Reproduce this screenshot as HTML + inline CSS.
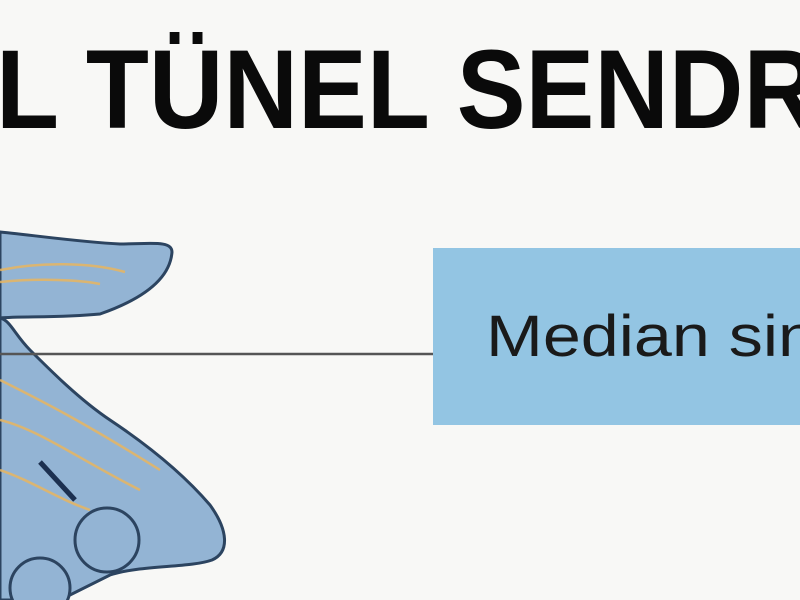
<!DOCTYPE html>
<html><head><style>
html,body{margin:0;padding:0;width:800px;height:600px;overflow:hidden;background:#f8f8f6}
</style></head><body>
<svg width="800" height="600" viewBox="0 0 800 600" xmlns="http://www.w3.org/2000/svg">
<rect width="800" height="600" fill="#f8f8f6"/>
<text x="-4" y="128" font-family="Liberation Sans, sans-serif" font-weight="bold" font-size="112" fill="#0a0a0a" textLength="822" lengthAdjust="spacingAndGlyphs">L TÜNEL SENDR</text>
<rect x="433" y="248" width="367" height="177" fill="#93c5e3"/>
<text x="486" y="356" font-family="Liberation Sans, sans-serif" font-size="58" fill="#1a1a1a" textLength="330" lengthAdjust="spacingAndGlyphs">Median sin</text>
<g stroke="#2c4460" stroke-width="3" fill="#93b4d4">
<path d="M0,232 C40,236 80,242 120,244 C150,244 172,240 172,252 C170,280 140,300 100,314 C60,318 20,316 0,318 Z"/>
<path d="M0,318 L0,600 L60,600 C80,590 100,580 110,575 C140,565 190,568 212,560 C230,552 228,530 210,505 C180,470 140,440 110,420 C80,400 50,370 30,350 C15,335 10,320 0,318 Z"/>
<circle cx="107" cy="540" r="32"/>
<circle cx="40" cy="588" r="30"/>
</g>
<g stroke="#e8b660" stroke-width="2.5" fill="none" opacity="0.85">
<path d="M0,270 C40,262 90,262 125,272"/>
<path d="M0,282 C40,278 80,280 100,284"/>
<path d="M0,380 C40,400 80,420 160,470"/>
<path d="M0,420 C40,430 80,460 140,490"/>
<path d="M0,470 C30,480 60,500 90,510"/>
</g>
<path d="M40,462 L75,500" stroke="#1c3050" stroke-width="5"/>
<line x1="0" y1="354" x2="433" y2="354" stroke="#555" stroke-width="2.5"/>
</svg>
</body></html>
